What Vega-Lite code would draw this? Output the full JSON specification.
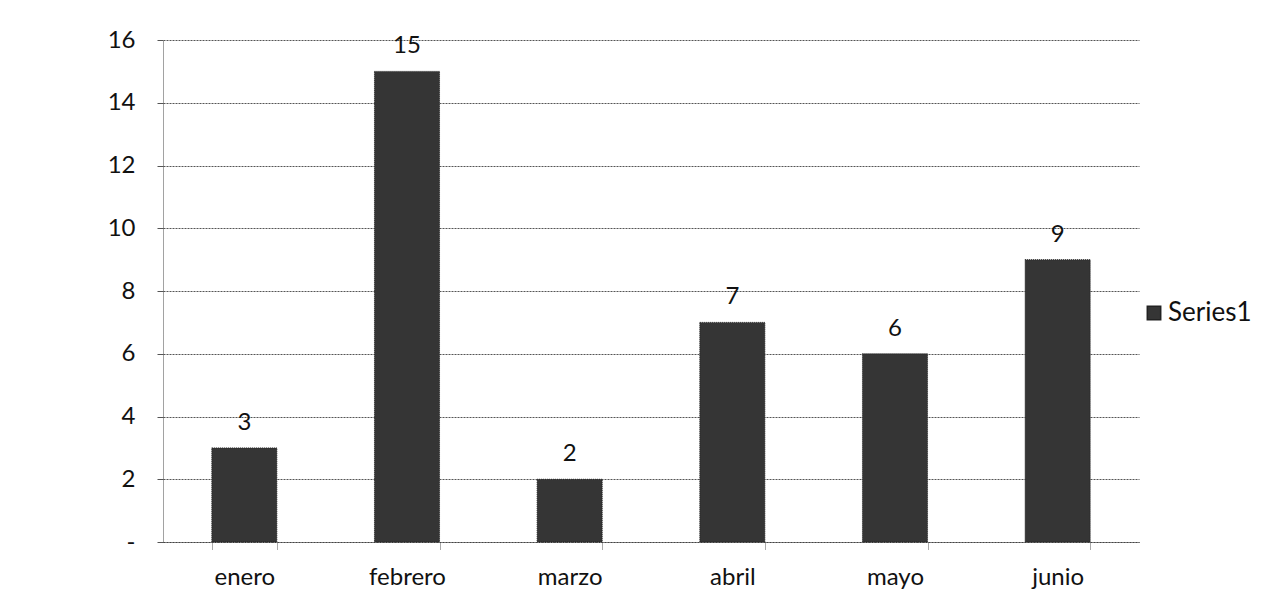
{
  "$schema": "https://vega.github.io/schema/vega-lite/v6.json",
  "width": 976,
  "height": 502,
  "autosize": {"type": "none"},
  "padding": {"left": 163, "top": 40, "right": 125, "bottom": 70},
  "background": "white",
  "data": {
    "values": [
      {"mes": "enero", "valor": 3, "serie": "Series1"},
      {"mes": "febrero", "valor": 15, "serie": "Series1"},
      {"mes": "marzo", "valor": 2, "serie": "Series1"},
      {"mes": "abril", "valor": 7, "serie": "Series1"},
      {"mes": "mayo", "valor": 6, "serie": "Series1"},
      {"mes": "junio", "valor": 9, "serie": "Series1"}
    ]
  },
  "encoding": {
    "x": {
      "field": "mes",
      "type": "nominal",
      "sort": null,
      "title": null,
      "scale": {"paddingInner": 0.6, "paddingOuter": 0.3},
      "axis": {
        "labelAngle": 0,
        "tickBand": "extent",
        "tickSize": 7,
        "labelPadding": 16,
        "labelFontSize": 24,
        "labelColor": "#111",
        "tickColor": "#555",
        "tickDash": [1, 1],
        "domainColor": "#444",
        "domainDash": [2, 1],
        "grid": false
      }
    },
    "y": {
      "field": "valor",
      "type": "quantitative",
      "title": null,
      "scale": {"domain": [0, 16], "nice": false},
      "axis": {
        "values": [0, 2, 4, 6, 8, 10, 12, 14, 16],
        "labelExpr": "datum.value == 0 ? '-' : datum.label",
        "labelFontSize": 24,
        "labelColor": "#111",
        "labelPadding": 22,
        "tickSize": 6,
        "tickColor": "#555",
        "domainColor": "#444",
        "domainDash": [1, 1],
        "gridColor": "#555",
        "gridDash": [2, 1],
        "gridWidth": 1
      }
    }
  },
  "layer": [
    {
      "mark": {"type": "bar", "stroke": "#222", "strokeWidth": 1, "strokeDash": [1, 1]},
      "encoding": {
        "color": {
          "field": "serie",
          "type": "nominal",
          "scale": {"range": ["#353535"]},
          "legend": {
            "title": null,
            "orient": "none",
            "legendX": 978,
            "legendY": 260,
            "symbolType": "square",
            "symbolSize": 180,
            "labelFontSize": 26,
            "labelColor": "#111",
            "labelOffset": 1
          }
        }
      }
    },
    {
      "mark": {"type": "text", "baseline": "alphabetic", "dy": -18, "fontSize": 24, "color": "#111"},
      "encoding": {"text": {"field": "valor", "type": "quantitative"}}
    }
  ],
  "config": {
    "font": "Lato",
    "view": {"stroke": null}
  }
}
